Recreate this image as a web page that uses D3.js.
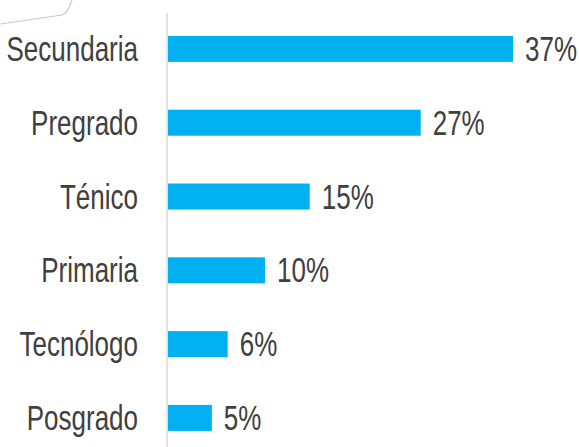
<!DOCTYPE html>
<html>
<head>
<meta charset="utf-8">
<script src="https://cdn.jsdelivr.net/npm/d3@7"></script>
<style>
  body { margin: 0; background: #fff; }
  text { font-family: "Liberation Sans", Arial, sans-serif; }
</style>
</head>
<body>
<div id="chart"></div>
<script>
var categories = ["Secundaria", "Pregrado", "Ténico", "Primaria", "Tecnólogo", "Posgrado"];
var values = [37, 27.1, 15.2, 10.4, 6.4, 4.7];
var valueLabels = ["37%", "27%", "15%", "10%", "6%", "5%"];

var width = 579, height = 447;
var margin = {top: 12, left: 167};
var stretch = "scale(1,1.32)"; // text in the original is tall and narrow

var svg = d3.select("#chart").append("svg")
    .attr("width", width)
    .attr("height", height);

// leftover frame corner in the top-left
svg.append("path")
    .attr("d", "M0,24 L62,15 Q68,13 72,0")
    .attr("fill", "none")
    .attr("stroke", "#c8c8c8")
    .attr("stroke-width", 1.2);

var xscale = d3.scaleLinear()
    .domain([0, 37])
    .range([0, 345]);

var yscale = d3.scaleBand()
    .domain(categories)
    .range([margin.top, margin.top + 6 * 73.8])
    .paddingInner(0.648)
    .paddingOuter(0.324);

var g = svg.append("g").attr("transform", "translate(" + margin.left + ",0)");

g.selectAll("rect")
    .data(values)
    .enter().append("rect")
    .attr("x", 1)
    .attr("y", function (d, i) { return yscale(categories[i]); })
    .attr("width", function (d) { return xscale(d); })
    .attr("height", yscale.bandwidth())
    .attr("fill", "#00b0f0");

// category labels
var yAxis = d3.axisLeft(yscale).tickSize(0).tickPadding(29);
var ax = g.append("g").call(yAxis);
ax.select(".domain").remove();
ax.selectAll(".tick").attr("transform", function (d) {
    return "translate(0," + (yscale(d) + yscale.bandwidth() / 2) + ")";
});
ax.selectAll("text")
    .attr("font-size", 26)
    .attr("fill", "#404040")
    .attr("dy", "0.35em")
    .attr("font-family", "'Liberation Sans', Arial, sans-serif")
    .attr("transform", stretch);

g.append("line")
    .attr("x1", 0).attr("x2", 0)
    .attr("y1", 13).attr("y2", height)
    .attr("stroke", "#d9d9d9")
    .attr("stroke-width", 1.5);

g.selectAll(".val")
    .data(values)
    .enter().append("g")
    .attr("class", "val")
    .attr("transform", function (d, i) {
        return "translate(" + (xscale(d) + 13) + "," + (yscale(categories[i]) + yscale.bandwidth() / 2) + ")";
    })
    .append("text")
    .attr("transform", stretch)
    .attr("dy", "0.35em")
    .attr("font-size", 26)
    .attr("fill", "#404040")
    .text(function (d, i) { return valueLabels[i]; });
</script>
</body>
</html>
